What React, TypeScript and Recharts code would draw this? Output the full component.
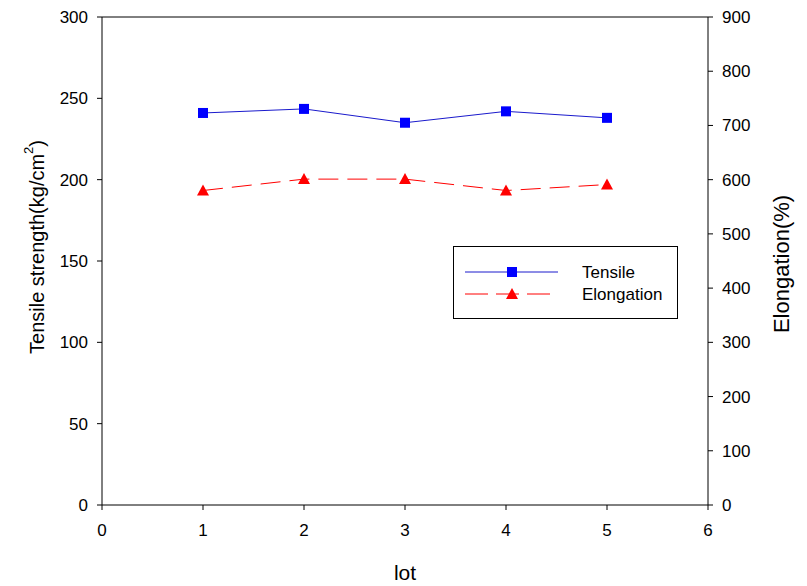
import React from 'react';
import { LineChart, Line, XAxis, YAxis, ReferenceLine } from 'recharts';

const lots = [1, 2, 3, 4, 5];
const tensile = [241, 243.5, 235, 242, 238];
const elongation = [580, 601, 601, 580, 591];
const xTicks = [0, 1, 2, 3, 4, 5, 6];
const leftTicks = [0, 50, 100, 150, 200, 250, 300];
const rightTicks = [0, 100, 200, 300, 400, 500, 600, 700, 800, 900];
const seriesNames = ['Tensile', 'Elongation'];

const data = lots.map((lot, i) => ({ lot, tensile: tensile[i], elongation: elongation[i] }));

const FONT = '"Liberation Sans", Arial, sans-serif';
const BLUE = '#0000ff';
const LINE_BLUE = '#1a1acc';
const RED = '#ff0000';

const SquareDot = (props: any) => {
  const { cx, cy } = props;
  if (cx == null || cy == null) return null;
  return <rect x={cx - 5} y={cy - 5} width={10} height={10} fill={BLUE} />;
};

const TriDot = (props: any) => {
  const { cx, cy } = props;
  if (cx == null || cy == null) return null;
  return <polygon points={`${cx},${cy - 6} ${cx - 6},${cy + 5} ${cx + 6},${cy + 5}`} fill={RED} />;
};

const LegendBox = () => (
  <svg width={227} height={75} style={{ position: 'absolute', left: 452, top: 245, display: 'block' }}>
    <rect x={1.5} y={1.5} width={224} height={72} fill="#fff" stroke="#000" strokeWidth={1} />
    <line x1={13} y1={27} x2={106} y2={27} stroke={LINE_BLUE} strokeWidth={1} />
    <rect x={55} y={22} width={10} height={10} fill={BLUE} />
    <text x={130} y={27} dy="0.35em" fontFamily={FONT} fontSize={17} fill="#000">{seriesNames[0]}</text>
    <line x1={13} y1={49} x2={106} y2={49} stroke={RED} strokeWidth={1} strokeDasharray="23 8" />
    <polygon points="60,43 54,54 66,54" fill={RED} />
    <text x={130} y={49} dy="0.35em" fontFamily={FONT} fontSize={17} fill="#000">{seriesNames[1]}</text>
  </svg>
);

const LeftTitle = () => {
  const cx = 37;
  const cy = 247;
  return (
    <text x={cx} y={cy} transform={`rotate(-90, ${cx}, ${cy})`} textAnchor="middle" dominantBaseline="central" fontFamily={FONT} fontSize={20} fill="#000">
      <tspan>Tensile strength(kg/cm</tspan>
      <tspan fontSize={13} dy={-9}>2</tspan>
      <tspan dy={9}>)</tspan>
    </text>
  );
};

const RightTitle = () => {
  const cx = 781;
  const cy = 264;
  return (
    <text x={cx} y={cy} transform={`rotate(-90, ${cx}, ${cy})`} textAnchor="middle" dominantBaseline="central" fontFamily={FONT} fontSize={22} fill="#000">
      Elongation(%)
    </text>
  );
};

export default function App() {
  return (
    <div style={{ position: 'absolute', left: 0, top: 0, width: 807, height: 586, background: '#fff' }}>
      <LineChart width={807} height={586} data={data} margin={{ top: 17, right: 0, bottom: 0, left: 0 }}>
        <XAxis
          dataKey="lot"
          type="number"
          domain={[0, 6]}
          ticks={xTicks}
          height={81}
          stroke="#000"
          tickSize={5}
          tickMargin={14}
          tick={{ fill: '#000', fontSize: 17, fontFamily: FONT }}
          label={{ value: 'lot', position: 'insideBottom', offset: 6, fill: '#000', fontSize: 21, fontFamily: FONT }}
        />
        <YAxis
          yAxisId="left"
          orientation="left"
          domain={[0, 300]}
          ticks={leftTicks}
          width={102}
          stroke="#000"
          tickSize={5}
          tickMargin={9}
          tick={{ fill: '#000', fontSize: 17, fontFamily: FONT }}
          label={<LeftTitle />}
        />
        <YAxis
          yAxisId="right"
          orientation="right"
          domain={[0, 900]}
          ticks={rightTicks}
          width={99}
          stroke="#000"
          tickSize={5}
          tickMargin={9}
          tick={{ fill: '#000', fontSize: 17, fontFamily: FONT }}
          label={<RightTitle />}
        />
        <ReferenceLine yAxisId="left" y={300} stroke="#000" strokeWidth={1} />
        <Line
          yAxisId="left"
          dataKey="tensile"
          name={seriesNames[0]}
          stroke={LINE_BLUE}
          strokeWidth={1}
          dot={<SquareDot />}
          activeDot={false}
          isAnimationActive={false}
        />
        <Line
          yAxisId="right"
          dataKey="elongation"
          name={seriesNames[1]}
          stroke={RED}
          strokeWidth={1}
          strokeDasharray="20 9"
          dot={<TriDot />}
          activeDot={false}
          isAnimationActive={false}
        />
      </LineChart>
      <LegendBox />
    </div>
  );
}
